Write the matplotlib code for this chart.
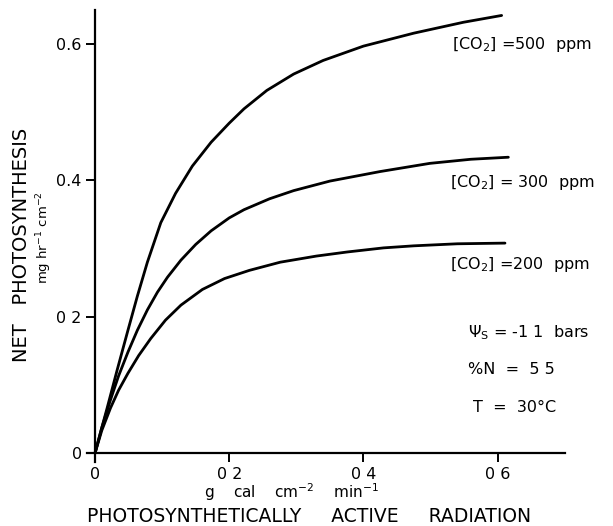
import matplotlib
matplotlib.use("Agg")
import matplotlib.pyplot as plt

# values (x: g cal cm-2 min-1, y: mg hr-1 cm-2)
x500 = [0, 0.010, 0.018, 0.033, 0.049, 0.063, 0.078, 0.098, 0.120, 0.145, 0.173, 0.200,
        0.222, 0.256, 0.296, 0.340, 0.400, 0.475, 0.549, 0.606]
y500 = [0, 0.037, 0.066, 0.122, 0.180, 0.230, 0.280, 0.338, 0.381, 0.421, 0.456, 0.484,
        0.505, 0.532, 0.556, 0.576, 0.597, 0.616, 0.632, 0.642]
x300 = [0, 0.010, 0.023, 0.035, 0.049, 0.063, 0.078, 0.093, 0.108, 0.128, 0.150, 0.173,
        0.200, 0.222, 0.260, 0.296, 0.350, 0.425, 0.499, 0.560, 0.616]
y300 = [0, 0.037, 0.078, 0.113, 0.148, 0.180, 0.210, 0.236, 0.258, 0.283, 0.306, 0.326,
        0.345, 0.357, 0.373, 0.385, 0.399, 0.413, 0.425, 0.431, 0.434]
x200 = [0, 0.010, 0.023, 0.035, 0.049, 0.065, 0.083, 0.105, 0.128, 0.160, 0.193, 0.230,
        0.276, 0.330, 0.376, 0.430, 0.475, 0.540, 0.611]
y200 = [0, 0.033, 0.066, 0.092, 0.117, 0.143, 0.168, 0.195, 0.217, 0.240, 0.256, 0.268,
        0.280, 0.289, 0.295, 0.301, 0.304, 0.307, 0.308]

ticks = [0, 0.2, 0.4, 0.6]
xticklabels = ["0", "0 2", "0 4", "0 6"]
yticklabels = ["0", "0 2", "0.4", "0.6"]

W, H = 613, 526
fig = plt.figure(figsize=(W / 100, H / 100), dpi=100)
ax = fig.add_axes([87 / W, 1 - 461.9 / H, (564.7 - 87) / W, (461.9 - 10) / H])

for xs, ys in [(x500, y500), (x300, y300), (x200, y200)]:
    ax.plot(xs, ys, color="black", linewidth=2.0, solid_capstyle="round",
            solid_joinstyle="round")

ax.set_xlim(-0.012, 0.7)
ax.set_ylim(-0.013, 0.65)
ax.spines["top"].set_visible(False)
ax.spines["right"].set_visible(False)
ax.spines["left"].set_position(("data", 0))
ax.spines["bottom"].set_position(("data", 0))
for s in ["left", "bottom"]:
    ax.spines[s].set_linewidth(1.6)
ax.set_xticks(ticks)
ax.set_xticklabels(xticklabels)
ax.set_yticks(ticks)
ax.set_yticklabels(yticklabels)
ax.tick_params(direction="out", length=6.5, width=1.4, labelsize=11.5)
ax.tick_params(axis="x", pad=3.5)
ax.tick_params(axis="y", pad=3)

def ft(px, py, s, **kw):
    fig.text(px / W, 1 - py / H, s, **kw)

# axis titles
ft(22, 245, "NET   PHOTOSYNTHESIS", rotation=90, ha="center", va="center", fontsize=14)
ft(44, 238, r"mg hr$^{-1}$ cm$^{-2}$", rotation=90, ha="center", va="center", fontsize=9.5)
ft(291, 498, r"g    cal    cm$^{-2}$    min$^{-1}$", ha="center", va="baseline", fontsize=11)
ft(309, 516, "PHOTOSYNTHETICALLY     ACTIVE     RADIATION", ha="center", va="center", fontsize=13.5)

# curve labels
ft(452, 45, r"[CO$_2$] =500  ppm", ha="left", va="center", fontsize=11.5)
ft(450, 183, r"[CO$_2$] = 300  ppm", ha="left", va="center", fontsize=11.5)
ft(450, 265, r"[CO$_2$] =200  ppm", ha="left", va="center", fontsize=11.5)

# conditions
ft(468, 333, r"$\Psi_{\rm S}$ = -1 1  bars", ha="left", va="center", fontsize=11.5)
ft(468, 370, "%N  =  5 5", ha="left", va="center", fontsize=11.5)
ft(473, 408, "T  =  30°C", ha="left", va="center", fontsize=11.5)

fig.savefig("out.png", dpi=100)
